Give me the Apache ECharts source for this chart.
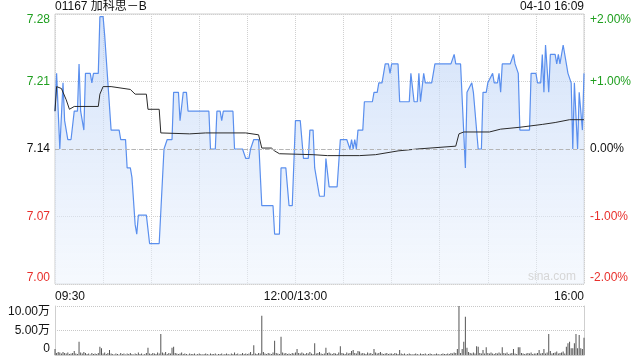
<!DOCTYPE html>
<html><head><meta charset="utf-8">
<script src="https://cdn.jsdelivr.net/npm/echarts@6/dist/echarts.min.js"></script>
<style>html,body{margin:0;padding:0;background:#fff}#c{width:640px;height:360px}</style>
</head><body><div id="c"></div>
<script>
const stockTitle = '01167 加科思－B';
const stampText = '04-10 16:09';
const watermark = 'sina.com';
const prevClose = 7.14;
const timeLabels = [['09:30', '09:30'], ['12:00', '12:00/13:00'], ['16:00', '16:00']];

// minute price (HKD)
const priceLine = [
 ['09:30',7.18],['09:31',7.22],['09:32',7.22],['09:33',7.14],['09:35',7.21],['09:36',7.17],['09:38',7.15],['09:40',7.15],
 ['09:42',7.18],['09:44',7.18],['09:45',7.23],['09:46',7.18],['09:47',7.18],['09:48',7.16],['09:49',7.22],['09:52',7.22],
 ['09:53',7.21],['09:54',7.22],['09:57',7.22],['09:58',7.28],['10:00',7.28],['10:01',7.26],['10:02',7.26],['10:05',7.16],
 ['10:10',7.16],['10:11',7.15],['10:14',7.15],['10:15',7.12],['10:17',7.12],['10:18',7.11],['10:20',7.06],['10:21',7.05],
 ['10:22',7.07],['10:27',7.07],['10:29',7.04],['10:35',7.04],['10:38',7.14],['10:40',7.15],['10:43',7.15],['10:44',7.20],
 ['10:47',7.20],['10:48',7.17],['10:49',7.17],['10:50',7.20],['10:52',7.20],['10:53',7.18],['11:06',7.18],['11:07',7.14],
 ['11:10',7.14],['11:11',7.18],['11:13',7.18],['11:14',7.17],['11:15',7.18],['11:21',7.18],['11:22',7.14],['11:27',7.14],
 ['11:29',7.13],['11:31',7.13],['11:32',7.14],['11:34',7.15],['11:37',7.15],['11:39',7.08],['11:46',7.08],['11:47',7.05],
 ['11:50',7.05],['11:51',7.12],['11:54',7.12],['11:56',7.08],['11:58',7.08],['13:00',7.17],['13:03',7.17],['13:05',7.13],
 ['13:08',7.13],['13:09',7.16],['13:11',7.16],['13:12',7.12],['13:13',7.12],['13:15',7.09],['13:18',7.09],['13:19',7.13],
 ['13:21',7.10],['13:26',7.10],['13:28',7.15],['13:32',7.15],['13:34',7.14],['13:35',7.15],['13:36',7.14],['13:37',7.15],
 ['13:38',7.14],['13:39',7.16],['13:42',7.16],['13:43',7.19],['13:48',7.19],['13:49',7.20],['13:51',7.20],['13:52',7.21],
 ['13:54',7.21],['13:55',7.22],['13:56',7.23],['13:58',7.23],['13:59',7.22],['14:00',7.23],['14:04',7.23],['14:05',7.19],
 ['14:11',7.19],['14:12',7.22],['14:13',7.22],['14:14',7.19],['14:16',7.19],['14:17',7.22],['14:18',7.19],['14:20',7.22],
 ['14:21',7.21],['14:25',7.21],['14:27',7.23],['14:37',7.23],['14:39',7.24],['14:40',7.23],['14:43',7.23],['14:46',7.12],
 ['14:47',7.20],['14:50',7.21],['14:51',7.20],['14:54',7.14],['14:56',7.14],['14:57',7.20],['14:59',7.20],['15:00',7.21],
 ['15:01',7.21],['15:03',7.22],['15:04',7.21],['15:06',7.21],['15:07',7.22],['15:08',7.20],['15:09',7.23],['15:14',7.23],
 ['15:16',7.24],['15:17',7.23],['15:19',7.22],['15:20',7.16],['15:26',7.16],['15:27',7.22],['15:30',7.22],['15:31',7.21],
 ['15:33',7.21],['15:34',7.24],['15:35',7.20],['15:36',7.25],['15:38',7.20],['15:39',7.24],['15:42',7.24],['15:43',7.23],
 ['15:44',7.24],['15:45',7.23],['15:47',7.25],['15:50',7.22],['15:52',7.21],['15:53',7.14],['15:54',7.21],['15:56',7.14],
 ['15:57',7.20],['15:58',7.20],['15:59',7.16],['16:00',7.22]
];

// average price
const avgLine = [
 ['09:30',7.180],['09:31',7.206],['09:34',7.204],['09:37',7.192],['09:39',7.182],['09:42',7.185],['09:57',7.185],['09:58',7.198],
 ['10:00',7.206],['10:05',7.206],['10:17',7.203],['10:20',7.198],['10:27',7.198],['10:28',7.182],['10:35',7.182],['10:36',7.157],
 ['10:54',7.156],['11:04',7.157],['11:29',7.157],['11:37',7.155],['11:39',7.141],['11:45',7.141],['11:47',7.138],['11:50',7.135],
 ['13:11',7.134],['13:20',7.133],['13:40',7.133],['13:50',7.134],['14:04',7.138],['14:16',7.140],['14:40',7.143],['14:42',7.156],
 ['14:45',7.158],['15:01',7.158],['15:08',7.161],['15:20',7.163],['15:34',7.166],['15:42',7.168],['15:51',7.171],['16:00',7.171]
];

// volume per trading minute, in 万 shares (index 0 = 09:30)
const volume = [
 1.2,0.4,0.6,0.5,0.3,0.6,0.4,0.3,0.5,0.2,0.3,0.4,0.8,0.3,0.2,2.7,0.5,0.3,0.6,0.4,0.2,0.3,0.1,0.4,0.2,0.3,0.2,0.4,1.7,1.4,
 0.3,0.5,0.2,0.4,1.0,0.3,0.2,0.1,0.3,0.2,0.1,0.4,0.2,0.3,0.1,0.3,0.2,0.4,0.2,0.1,0.3,0.2,0.5,0.2,0.3,0.1,0.2,0.4,1.5,0.3,
 0.2,0.4,0.3,0.2,0.5,0.3,4.3,0.5,0.3,0.6,0.2,0.4,0.3,1.5,1.7,0.4,0.3,0.2,0.3,0.5,0.2,0.3,0.2,0.1,0.3,0.2,0.2,0.3,0.1,0.2,
 0.3,0.2,0.1,0.2,0.3,0.2,0.1,0.3,0.2,0.2,0.3,0.1,0.2,0.2,0.3,0.1,0.2,0.3,0.2,0.1,0.3,0.2,0.5,0.2,0.3,0.1,0.2,0.4,0.2,0.3,
 0.2,0.3,0.6,0.2,2.0,0.3,0.2,0.4,0.3,8.0,0.6,0.3,0.2,0.4,0.3,0.2,0.5,2.9,0.4,0.3,0.2,3.7,0.5,0.3,0.4,0.2,0.3,0.2,0.4,0.3,
 0.5,1.2,0.4,0.3,0.5,0.3,0.2,0.4,0.3,0.6,0.3,0.2,2.4,0.3,0.4,0.6,0.3,0.2,0.3,1.5,0.4,0.5,0.3,0.2,0.4,0.3,0.2,0.5,1.8,0.4,
 0.3,0.2,0.5,0.3,0.4,0.8,1.0,0.4,0.3,0.8,0.7,0.3,0.4,0.3,0.2,0.5,0.3,0.4,0.2,1.2,0.5,0.3,0.4,0.6,0.3,0.2,0.3,0.4,0.2,0.3,
 0.3,0.2,0.4,0.3,0.2,1.0,0.3,0.2,0.3,0.1,0.2,0.3,0.2,0.1,0.2,0.3,0.2,0.1,0.3,0.2,0.2,0.3,0.1,0.2,0.3,0.2,0.1,0.2,0.3,0.2,
 0.1,0.2,0.3,0.2,0.2,0.3,0.2,0.4,0.3,0.5,0.4,1.2,10.2,0.4,1.2,2.7,7.8,1.5,0.6,0.4,0.3,0.5,0.3,1.8,1.7,0.4,0.3,1.0,0.3,1.6,
 0.4,0.3,0.5,0.3,0.2,0.4,0.3,0.5,0.3,1.6,0.4,0.3,0.5,0.2,0.3,0.4,1.2,0.3,0.2,1.6,1.6,0.4,0.3,0.2,0.3,0.4,0.3,0.5,0.2,0.3,
 0.3,0.4,1.0,0.3,0.4,1.2,0.3,0.5,4.3,0.8,0.3,0.4,0.5,0.7,0.3,0.4,0.5,0.7,0.3,1.7,2.4,2.7,1.4,1.4,2.4,4.3,1.4,4.1,1.4,1.2,
 3.5
];

function idx(t) {
  const p = t.split(':').map(Number);
  const mins = p[0] * 60 + p[1];
  return mins <= 720 ? mins - 570 : mins - 780 + 150;
}
const totalMin = idx('16:00');
const labelMap = {};
timeLabels.forEach(function (l) { labelMap[idx(l[0])] = l[1]; });

const FONT = '"Liberation Sans", Arial, "Noto Sans CJK SC", sans-serif';
const GREEN = '#1f9f1f', RED = '#e8302c', BLACK = '#111';

const chart = echarts.init(document.getElementById('c'), null, { renderer: 'canvas' });
const step = prevClose * 0.01;

chart.setOption({
  animation: false,
  textStyle: { fontFamily: FONT },
  graphic: [
    { type: 'text', left: 55, top: 1, style: { text: stockTitle, font: '12px ' + FONT, fill: '#111' } },
    { type: 'text', right: 56, top: 1, style: { text: stampText, font: '12px ' + FONT, fill: '#111', textAlign: 'right' } },
    { type: 'text', right: 64, top: 271, z: 100, style: { text: watermark, font: '12px ' + FONT, fill: '#d6d6d6' } }
  ],
  grid: [
    { left: 55, right: 56, top: 14, height: 270, show: true, borderColor: '#cfcfcf', borderWidth: 1, backgroundColor: 'transparent' },
    { left: 55, right: 56, top: 306, height: 49 }
  ],
  xAxis: [
    { type: 'value', gridIndex: 0, min: 0, max: totalMin, interval: 30,
      axisLine: { show: false }, axisTick: { show: false },
      splitLine: { show: true, lineStyle: { color: '#d0d0d0', type: 'dotted', width: 1 } },
      axisLabel: { show: true, margin: 7, color: '#111', fontSize: 12, fontFamily: FONT,
        showMinLabel: true, showMaxLabel: true,
        alignMinLabel: 'left', alignMaxLabel: 'right',
        formatter: function (v) { return labelMap[v] || ''; } } },
    { type: 'value', gridIndex: 1, min: 0, max: totalMin, interval: 30,
      axisLine: { show: true, lineStyle: { color: '#cfcfcf' } }, axisTick: { show: false },
      splitLine: { show: false }, axisLabel: { show: false } }
  ],
  yAxis: [
    { type: 'value', gridIndex: 0, min: prevClose - 2 * step, max: prevClose + 2 * step, interval: step,
      axisLine: { show: false }, axisTick: { show: false },
      splitLine: { show: true, lineStyle: { color: '#d0d0d0', type: 'dotted' } },
      axisLabel: { margin: 5, fontSize: 12, fontFamily: FONT,
        verticalAlignMaxLabel: 'top', verticalAlignMinLabel: 'bottom',
        formatter: function (v) { return v.toFixed(2); },
        color: function (v) { v = Number(v); return v > prevClose + 0.001 ? GREEN : (v < prevClose - 0.001 ? RED : BLACK); } } },
    { type: 'value', gridIndex: 0, position: 'right', min: -2, max: 2, interval: 1,
      axisLine: { show: false }, axisTick: { show: false }, splitLine: { show: false },
      axisLabel: { margin: 6, fontSize: 12, fontFamily: FONT,
        verticalAlignMaxLabel: 'top', verticalAlignMinLabel: 'bottom',
        formatter: function (v) { return (v > 0 ? '+' : '') + v.toFixed(2) + '%'; },
        color: function (v) { v = Number(v); return v > 0 ? GREEN : (v < 0 ? RED : BLACK); } } },
    { type: 'value', gridIndex: 1, min: 0, max: 10, interval: 5,
      axisLine: { show: true, lineStyle: { color: '#cfcfcf' } }, axisTick: { show: false },
      splitLine: { show: true, lineStyle: { color: '#c8c8c8', type: 'dotted' } },
      axisLabel: { margin: 5, fontSize: 12, color: '#111', fontFamily: FONT,
        verticalAlignMaxLabel: 'top', verticalAlignMinLabel: 'bottom',
        formatter: function (v) { return v === 0 ? '0' : v.toFixed(2) + '万'; } } },
    { type: 'value', gridIndex: 1, position: 'right', min: 0, max: 10, interval: 5,
      axisLine: { show: true, lineStyle: { color: '#cfcfcf' } }, axisTick: { show: false },
      splitLine: { show: false }, axisLabel: { show: false } }
  ],
  series: [
    { name: 'price', type: 'line', xAxisIndex: 0, yAxisIndex: 0,
      data: priceLine.map(function (d) { return [idx(d[0]), d[1]]; }),
      showSymbol: false, symbol: 'none',
      lineStyle: { color: '#5a8fee', width: 1.2 },
      areaStyle: { origin: 'start', color: new echarts.graphic.LinearGradient(0, 0, 0, 1, [
        { offset: 0, color: 'rgba(184,208,246,0.9)' },
        { offset: 1, color: 'rgba(236,243,253,0.7)' }]) },
      markLine: { silent: true, symbol: ['none', 'none'], label: { show: false },
        lineStyle: { color: '#b5b5b5', type: [4, 3], width: 1 },
        data: [{ yAxis: prevClose }] },
      z: 3 },
    { name: 'avg', type: 'line', xAxisIndex: 0, yAxisIndex: 0,
      data: avgLine.map(function (d) { return [idx(d[0]), d[1]]; }),
      showSymbol: false, symbol: 'none',
      lineStyle: { color: '#2a2a2a', width: 1 }, z: 4 },
    { name: 'volume', type: 'bar', xAxisIndex: 1, yAxisIndex: 2,
      data: volume.map(function (v, i) { return [i, v]; }),
      barWidth: 1, itemStyle: { color: '#555' } }
  ]
});
</script></body></html>
